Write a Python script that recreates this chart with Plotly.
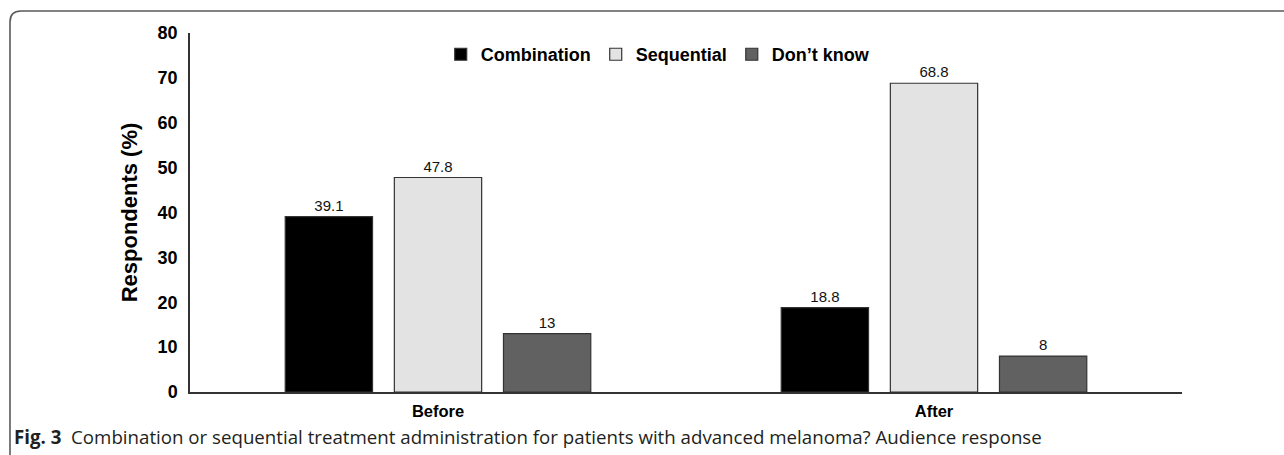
import plotly.graph_objects as go

# Survey data: share of respondents (%) per answer, before and after the session
timepoints = ["Before", "After"]
answers = ["Combination", "Sequential", "Don’t know"]
combination = [39.1, 18.8]
sequential = [47.8, 68.8]
dont_know = [13, 8]
series = [combination, sequential, dont_know]
fills = ["#000000", "#e3e3e3", "#616161"]

W, H = 1284, 455
L, R, T, B = 190, 102, 33, 63
pw, ph = W - L - R, H - T - B


def px(x):
    return (x - L) / pw


def py(y):
    return (H - B - y) / ph


fig = go.Figure()
for name, vals, col in zip(answers, series, fills):
    fig.add_trace(go.Bar(
        x=timepoints, y=vals, name=name,
        marker=dict(color=col, line=dict(color="#333333", width=1.2)),
        text=[f"{v:g}" for v in vals], textposition="outside",
        textfont=dict(family="Arial, Liberation Sans", size=15, color="#111"),
        constraintext="none", cliponaxis=False,
    ))

# rounded frame around the figure panel
r = 11
x0, y0 = px(10), py(11)
frame = (f"M {px(10)},{py(H + 5)} L {x0},{py(11 + r)} "
         f"Q {x0},{y0} {px(10 + r)},{y0} L {px(W + 5)},{y0}")

fig.update_layout(
    width=W, height=H,
    margin=dict(l=L, r=R, t=T, b=B),
    paper_bgcolor="white", plot_bgcolor="white",
    barmode="group", bargap=0.34, bargroupgap=0.2,
    font=dict(family="Arial, Liberation Sans", color="#000"),
    legend=dict(
        orientation="h", x=0.472, xanchor="center", y=0.94, yanchor="middle",
        font=dict(size=18, family="Arial, Liberation Sans", weight="bold"),
        itemwidth=30, traceorder="normal",
        bgcolor="rgba(0,0,0,0)",
    ),
    xaxis=dict(
        showline=True, linecolor="#333", linewidth=1.5,
        ticks="", ticklabelstandoff=3, tickfont=dict(size=16.5, weight="bold"),
    ),
    yaxis=dict(
        range=[0, 80], dtick=10, showgrid=False, zeroline=False,
        showline=True, linecolor="#333", linewidth=1.5,
        ticks="", ticklabelstandoff=7,
        tickfont=dict(size=18, weight="bold"),
        title=dict(text="Respondents (%)", font=dict(size=22, weight="bold"), standoff=14),
    ),
    shapes=[dict(type="path", xref="paper", yref="paper", path=frame,
                 line=dict(color="#5a5a5a", width=1.6), layer="above")],
    annotations=[dict(
        xref="paper", yref="paper", x=px(12), y=py(437), xanchor="left", yanchor="middle",
        showarrow=False, align="left",
        text="<b>Fig. 3</b>  Combination or sequential treatment administration for patients with advanced melanoma? Audience response",
        font=dict(family="Open Sans, Noto Sans", size=18.7, color="#231f20"),
    )],
)

fig.write_html("out.html")
